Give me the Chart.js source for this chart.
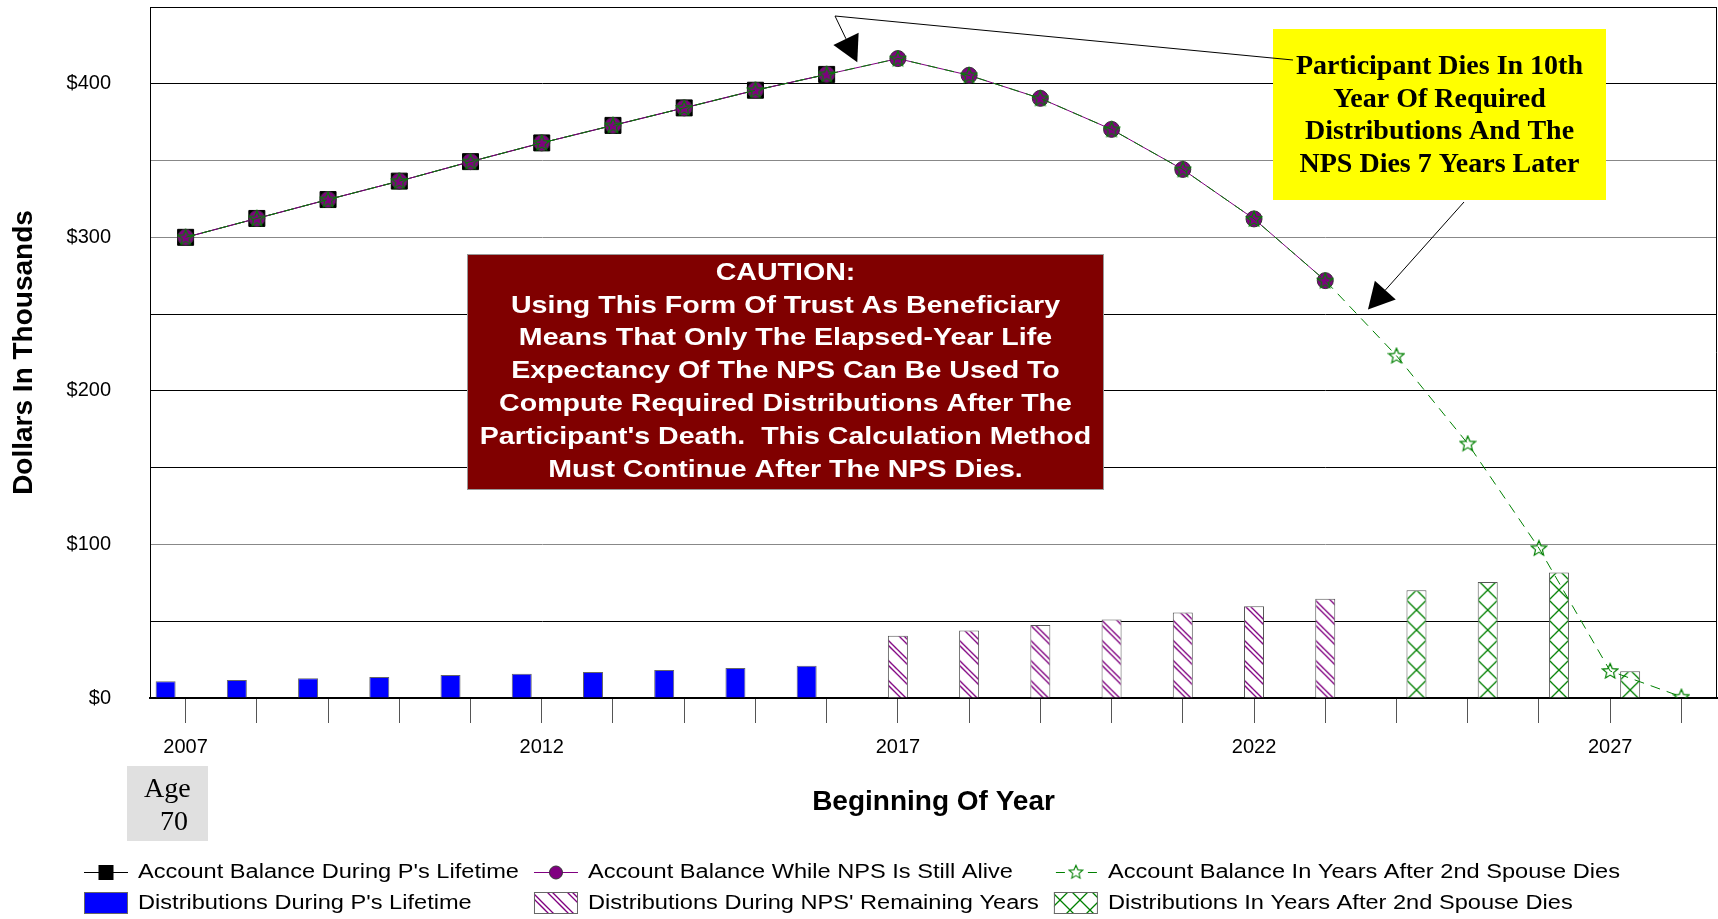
<!DOCTYPE html>
<html><head><meta charset="utf-8">
<script src="https://cdn.jsdelivr.net/npm/chart.js@4.4.1/dist/chart.umd.min.js"></script>
<style>html,body{margin:0;padding:0;background:#fff;overflow:hidden}canvas{display:block}</style>
</head><body>
<canvas id="c" width="1718" height="919"></canvas>
<script>
// ---------------- DATA ----------------
const years = [2007,2008,2009,2010,2011,2012,2013,2014,2015,2016,2017,2018,2019,2020,2021,2022,2023,2024,2025,2026,2027,2028];
const yearLabels = [2007, 2012, 2017, 2022, 2027];
const dollarTicks = [0, 100, 200, 300, 400];

const balanceLifetime = [300,312.3,324.6,336.6,349.3,361.5,372.9,384.3,395.8,406.1,null,null,null,null,null,null,null,null,null,null,null,null];
const balanceNPS      = [300,312.3,324.6,336.6,349.3,361.5,372.9,384.3,395.8,406.1,416.4,405.5,390.5,370.3,344.2,312.0,271.8,null,null,null,null,null];
const balanceAfter    = [300,312.3,324.6,336.6,349.3,361.5,372.9,384.3,395.8,406.1,416.4,405.5,390.5,370.3,344.2,312.0,271.8,222.9,165.7,97.6,17.6,0.8];

const distLifetime = [10.9,11.7,12.8,13.7,15.0,15.8,17.0,18.3,19.6,21.0,null,null,null,null,null,null,null,null,null,null,null,null];
const distNPS      = [null,null,null,null,null,null,null,null,null,null,40.6,43.9,47.6,51.1,55.6,59.8,64.7,null,null,null,null,null];
const distAfter    = [null,null,null,null,null,null,null,null,null,null,null,null,null,null,null,null,null,70.2,75.6,81.7,17.4,null];

const seriesNames = [
  "Account Balance During P's Lifetime",
  "Account Balance While NPS Is Still Alive",
  "Account Balance In Years After 2nd Spouse Dies",
  "Distributions During P's Lifetime",
  "Distributions During NPS' Remaining Years",
  "Distributions In Years After 2nd Spouse Dies"
];
const cautionLines = [
  "CAUTION:",
  "Using This Form Of Trust As Beneficiary",
  "Means That Only The Elapsed-Year Life",
  "Expectancy Of The NPS Can Be Used To",
  "Compute Required Distributions After The",
  "Participant's Death.  This Calculation Method",
  "Must Continue After The NPS Dies."
];
const calloutLines = [
  "Participant Dies In 10th",
  "Year Of Required",
  "Distributions And The",
  "NPS Dies 7 Years Later"
];
const ageLines = ["Age", "70"];

// ---------------- STYLE HELPERS ----------------
const SANS = '"Liberation Sans", Arial, sans-serif';
const SERIF = '"Liberation Serif", "Times New Roman", serif';
const PURPLE = '#800080', GREEN = '#008000', BLUE = '#0000ff';
const CAT_PCT = 0.8424;
const mainCtx = document.getElementById('c').getContext('2d');

function makeTile(size, draw) {
  const c = document.createElement('canvas'); c.width = size; c.height = size;
  const g = c.getContext('2d'); g.fillStyle = '#fff'; g.fillRect(0, 0, size, size); draw(g);
  return c;
}
const hatchTile = makeTile(20, g => {
  g.strokeStyle = PURPLE; g.lineWidth = 1.3;
  [-20, -15, 0, 5, 20, 25].forEach(c0 => { g.beginPath(); g.moveTo(-1, c0 - 1); g.lineTo(21, c0 + 21); g.stroke(); });
});
const crossTile = makeTile(20, g => {
  g.strokeStyle = GREEN; g.lineWidth = 1.3;
  g.beginPath(); g.moveTo(-1, -1); g.lineTo(21, 21); g.moveTo(21, -1); g.lineTo(-1, 21); g.stroke();
});
const hatch = mainCtx.createPattern(hatchTile, 'repeat');
const cross = mainCtx.createPattern(crossTile, 'repeat');
// pattern anchored at the left edge of each bar (slot: -1, 0, +1 within the group)
function barPattern(tile, slot, fallback) {
  return ctx => {
    const xs = ctx.chart.scales && ctx.chart.scales.x;
    if (!xs || ctx.dataIndex === undefined || !isFinite(xs.width)) return fallback;
    const bw = xs.width / years.length * CAT_PCT / 3;
    const left = xs.getPixelForValue(ctx.dataIndex) + slot * bw - bw / 2;
    const p = ctx.chart.ctx.createPattern(tile, 'repeat');
    p.setTransform(new DOMMatrix().translate(left, 0));
    return p;
  };
}

function starPath(g, cx, cy, R, r) {
  g.beginPath();
  for (let i = 0; i < 10; i++) { const a = -Math.PI / 2 + i * Math.PI / 5; const rad = i % 2 ? r : R; g.lineTo(cx + rad * Math.cos(a), cy + rad * Math.sin(a)); }
  g.closePath();
}
function starCanvas(size) {
  const c = document.createElement('canvas'); c.width = c.height = size;
  const g = c.getContext('2d'); starPath(g, size / 2, size / 2 + 0.5, size / 2 - 1, (size / 2 - 1) * 0.45);
  g.strokeStyle = GREEN; g.lineWidth = 1.2; g.stroke(); return c;
}
const starImg = starCanvas(18);

// ---------------- PLUGINS ----------------
function stretched(ctx, text, x, y, sx) { ctx.save(); ctx.translate(x, y); ctx.scale(sx, 1); ctx.fillText(text, 0, 0); ctx.restore(); }
function arrow(ctx, from, tip, len, w) {
  const dx = tip.x - from.x, dy = tip.y - from.y, d = Math.hypot(dx, dy), ux = dx / d, uy = dy / d;
  const bx = tip.x - ux * len, by = tip.y - uy * len;
  ctx.beginPath(); ctx.moveTo(from.x, from.y); ctx.lineTo(bx, by); ctx.stroke();
  ctx.beginPath(); ctx.moveTo(tip.x, tip.y); ctx.lineTo(bx - uy * w / 2, by + ux * w / 2); ctx.lineTo(bx + uy * w / 2, by - ux * w / 2); ctx.closePath(); ctx.fill();
}

const annotations = {
  id: 'annotations',
  beforeDatasetsDraw(chart) {
    const {ctx, chartArea: a} = chart;
    ctx.save(); ctx.strokeStyle = '#000'; ctx.lineWidth = 1;
    ctx.beginPath(); ctx.moveTo(a.left, a.top + 0.5); ctx.lineTo(a.right - 0.5, a.top + 0.5); ctx.lineTo(a.right - 0.5, a.bottom); ctx.stroke();
    ctx.restore();
  },
  afterDatasetsDraw(chart) {
    const {ctx} = chart; const xs = chart.scales.x, ys = chart.scales.y;
    ctx.save();
    // caution box
    ctx.fillStyle = '#800000'; ctx.fillRect(468, 255, 635, 234);
    ctx.strokeStyle = '#999'; ctx.lineWidth = 1; ctx.strokeRect(467.5, 254.5, 636, 235);
    ctx.fillStyle = '#fff'; ctx.font = 'bold 24px ' + SANS; ctx.textAlign = 'center'; ctx.textBaseline = 'middle';
    cautionLines.forEach((t, i) => stretched(ctx, t, 785.5, 273 + i * 32.9, 1.19));
    // callout box
    ctx.fillStyle = '#ffff00'; ctx.fillRect(1273, 29, 333, 171);
    ctx.strokeStyle = '#000'; ctx.fillStyle = '#000'; ctx.lineWidth = 1;
    const p0 = {x: 1293, y: 60}, p1 = {x: 835, y: 16};
    ctx.beginPath(); ctx.moveTo(p0.x, p0.y); ctx.lineTo(p1.x, p1.y); ctx.stroke();
    arrow(ctx, p1, {x: xs.getPixelForValue(9.43), y: ys.getPixelForValue(414)}, 26, 28);
    arrow(ctx, {x: 1464, y: 202}, {x: xs.getPixelForValue(16.6), y: ys.getPixelForValue(253)}, 26, 28);
    ctx.font = 'bold 28px ' + SERIF; ctx.textAlign = 'center'; ctx.textBaseline = 'middle';
    calloutLines.forEach((t, i) => ctx.fillText(t, 1439.5, 67 + i * 32.5));
    ctx.restore();
  },
  afterDraw(chart) {
    const {ctx} = chart;
    ctx.save();
    // Age box
    ctx.fillStyle = '#e0e0e0'; ctx.fillRect(127, 766, 81, 75);
    ctx.fillStyle = '#000'; ctx.font = '28px ' + SERIF; ctx.textAlign = 'left'; ctx.textBaseline = 'alphabetic';
    ctx.fillText(ageLines[0], 144, 797); ctx.fillText(ageLines[1], 160, 830);
    // Legend
    const ds = chart.data.datasets;
    const order = [[0, 3], [1, 4], [2, 5]];
    const sx = 1.18; ctx.font = '20px ' + SANS; ctx.textBaseline = 'middle';
    const rows = [872, 903];
    let x = 84;
    order.forEach(col => {
      let maxW = 0;
      col.forEach((di, r) => {
        const d = ds[di], y = rows[r];
        if (d.type === 'line') {
          ctx.save(); ctx.strokeStyle = d.borderColor; ctx.lineWidth = 1;
          if (d.borderDash) { ctx.beginPath(); ctx.moveTo(x + 2, y + 0.5); ctx.lineTo(x + 11, y + 0.5); ctx.moveTo(x + 34, y + 0.5); ctx.lineTo(x + 43, y + 0.5); ctx.stroke(); }
          else { ctx.beginPath(); ctx.moveTo(x, y + 0.5); ctx.lineTo(x + 44, y + 0.5); ctx.stroke(); }
          const cx = x + 22;
          if (d.pointStyle === 'rect') { ctx.fillStyle = '#000'; ctx.fillRect(cx - 7.5, y - 7, 15, 15); }
          else if (d.pointStyle === 'circle') { ctx.beginPath(); ctx.arc(cx, y + 0.5, 6.5, 0, Math.PI * 2); ctx.fillStyle = d.pointBackgroundColor; ctx.fill(); ctx.strokeStyle = '#333'; ctx.stroke(); }
          else { ctx.drawImage(starImg, cx - 8, y - 8, 16, 16); }
          ctx.restore();
        } else {
          ctx.fillStyle = d.legendFill || d.backgroundColor; ctx.fillRect(x, y - 11, 44, 22);
          ctx.strokeStyle = '#666'; ctx.lineWidth = 1; ctx.strokeRect(x + 0.5, y - 10.5, 43, 21);
        }
        ctx.fillStyle = '#000'; ctx.textAlign = 'left';
        stretched(ctx, d.label, x + 54, y, sx);
        maxW = Math.max(maxW, ctx.measureText(d.label).width * sx);
      });
      x = x + 54 + maxW + 15;
    });
    ctx.restore();
  }
};

// ---------------- CHART ----------------
Chart.defaults.font.family = SANS;
Chart.defaults.color = '#000';

new Chart(document.getElementById('c'), {
  type: 'bar',
  data: {
    labels: years.map(String),
    datasets: [
      {type: 'line', label: seriesNames[0], data: balanceLifetime, borderColor: '#000', borderWidth: 1,
       pointStyle: 'rect', pointRadius: 11.3, pointBackgroundColor: '#000', pointBorderColor: '#000', pointBorderWidth: 1, order: 3},
      {type: 'line', label: seriesNames[1], data: balanceNPS, borderColor: PURPLE, borderWidth: 1,
       pointStyle: 'circle', pointRadius: 8, pointBackgroundColor: PURPLE, pointBorderColor: '#333', pointBorderWidth: 1, order: 2},
      {type: 'line', label: seriesNames[2], data: balanceAfter, borderColor: GREEN, borderWidth: 1, borderDash: [10, 7],
       pointStyle: starImg, pointRadius: 9, order: 1},
      {label: seriesNames[3], data: distLifetime, backgroundColor: BLUE, borderColor: '#666', borderWidth: 1, order: 10},
      {label: seriesNames[4], data: distNPS, backgroundColor: barPattern(hatchTile, 0, hatch), legendFill: hatch, borderColor: '#555', borderWidth: 1, order: 10},
      {label: seriesNames[5], data: distAfter, backgroundColor: barPattern(crossTile, 1, cross), legendFill: cross, borderColor: '#555', borderWidth: 1, order: 10}
    ]
  },
  options: {
    responsive: false, animation: false, devicePixelRatio: 1,
    layout: {autoPadding: false, padding: {top: 7, right: 1, left: 0, bottom: 0}},
    datasets: {bar: {barPercentage: 1.0, categoryPercentage: CAT_PCT}},
    plugins: {legend: {display: false}, tooltip: {enabled: false}},
    scales: {
      x: {
        offset: true,
        grid: {display: true, drawOnChartArea: false, drawTicks: true, tickLength: 25, offset: false, color: '#555', lineWidth: 1},
        border: {display: true, color: '#000', width: 2},
        ticks: {autoSkip: false, maxRotation: 0, padding: 12, font: {size: 20}, color: '#000',
          callback: (v, i) => yearLabels.includes(years[i]) ? String(years[i]) : ''},
        title: {display: true, text: 'Beginning Of Year', font: {size: 28, weight: 'bold'}, color: '#000', padding: {top: 0, bottom: 100}},
        afterFit: s => { s.height = 221; s.paddingLeft = 0; s.paddingRight = 0; }
      },
      y: {
        min: 0, max: 450,
        grid: {drawTicks: false, lineWidth: 1, color: c => [100, 300, 350].includes(c.tick && c.tick.value) ? '#888' : '#000'},
        border: {display: true, color: '#000', width: 1},
        ticks: {stepSize: 50, padding: 39, font: {size: 20}, color: '#000',
          callback: v => dollarTicks.includes(v) ? '$' + v : ''},
        title: {display: true, text: 'Dollars In Thousands', font: {size: 28, weight: 'bold'}, color: '#000', padding: {top: 7, bottom: 0}},
        afterFit: s => { s.width = 150; s.paddingTop = 0; s.paddingBottom = 0; }
      }
    }
  },
  plugins: [annotations]
});
</script>
</body></html>
